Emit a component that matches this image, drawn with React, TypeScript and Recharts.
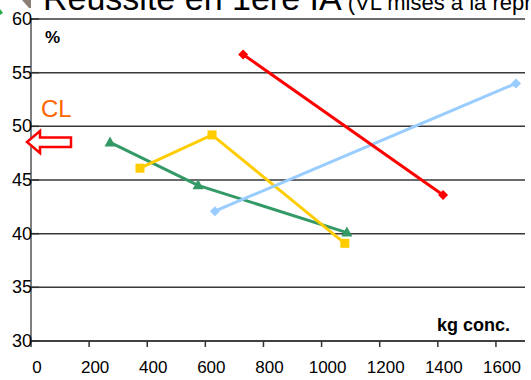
import { LineChart, Line, XAxis, YAxis, CartesianGrid } from 'recharts';

// kg de concentré / réussite (%)
const xTicks = [0, 200, 400, 600, 800, 1000, 1200, 1400, 1600];
const yTicks = [30, 35, 40, 45, 50, 55, 60];

const greenX = [272, 575, 1087];
const greenY = [48.5, 44.5, 40.1];
const yellowX = [375, 623, 1080];
const yellowY = [46.1, 49.2, 39.1];
const blueX = [633, 1669];
const blueY = [42.1, 54.0];
const redX = [730, 1418];
const redY = [56.7, 43.6];

const toRows = (xs: number[], ys: number[]) => xs.map((x, i) => ({ x, y: ys[i] }));

const FONT = '"Liberation Sans", Arial, sans-serif';

const diamond = (color: string) => (p: any) => {
  const { cx, cy, index } = p;
  const r = 5;
  return (
    <path
      key={`d-${color}-${index}`}
      d={`M${cx},${cy - r}L${cx + r},${cy}L${cx},${cy + r}L${cx - r},${cy}Z`}
      fill={color}
    />
  );
};

const square = (color: string) => (p: any) => {
  const { cx, cy, index } = p;
  return <rect key={`s-${index}`} x={cx - 4.5} y={cy - 4.5} width={9} height={9} fill={color} />;
};

const triangle = (color: string) => (p: any) => {
  const { cx, cy, index } = p;
  return (
    <path
      key={`t-${index}`}
      d={`M${cx},${cy - 6}L${cx + 5.5},${cy + 4}L${cx - 5.5},${cy + 4}Z`}
      fill={color}
    />
  );
};

const YTick = (props: any) => {
  const { y, payload } = props;
  return (
    <g>
      <line x1={31} x2={39} y1={y} y2={y} stroke="#333" strokeWidth={1.5} />
      <text x={32} y={y + 6} textAnchor="end" fontSize={18} fill="#000" fontFamily={FONT}>
        {payload.value}
      </text>
    </g>
  );
};

const XTick = (props: any) => {
  const { x, y, payload } = props;
  return (
    <text x={x + 6} y={y + 24} textAnchor="middle" fontSize={17} fill="#000" fontFamily={FONT}>
      {payload.value}
    </text>
  );
};

const App = () => {
  return (
    <div style={{ position: 'relative', width: 531, height: 380, overflow: 'hidden', background: '#fff' }}>
      <style>{'body{margin:0}'}</style>
      <LineChart width={531} height={380} margin={{ top: 19, right: 6, bottom: 0, left: 0 }}>
        <CartesianGrid vertical={false} stroke="#3a3a3a" strokeWidth={1.5} />
        <XAxis
          type="number"
          dataKey="x"
          domain={[0, 1700]}
          ticks={xTicks}
          height={39}
          tickSize={6}
          tickLine={{ stroke: '#333', strokeWidth: 1.5 }}
          axisLine={{ stroke: '#333', strokeWidth: 1.5 }}
          tick={<XTick />}
          allowDataOverflow
        />
        <YAxis
          type="number"
          domain={[30, 60]}
          ticks={yTicks}
          width={31}
          tickLine={false}
          axisLine={{ stroke: '#555', strokeWidth: 1.5 }}
          tick={<YTick />}
          allowDataOverflow
        />
        <Line data={toRows(greenX, greenY)} dataKey="y" stroke="#339966" strokeWidth={3} dot={triangle('#339966')} isAnimationActive={false} />
        <Line data={toRows(yellowX, yellowY)} dataKey="y" stroke="#FFCC00" strokeWidth={3} dot={square('#FFCC00')} isAnimationActive={false} />
        <Line data={toRows(blueX, blueY)} dataKey="y" stroke="#99CCFF" strokeWidth={3} dot={diamond('#99CCFF')} isAnimationActive={false} />
        <Line data={toRows(redX, redY)} dataKey="y" stroke="#FF0000" strokeWidth={3} dot={diamond('#FF0000')} isAnimationActive={false} />
      </LineChart>
      <svg
        width={531}
        height={380}
        style={{ position: 'absolute', left: 0, top: 0, pointerEvents: 'none' }}
        fontFamily={FONT}
      >
        <polygon points="22,0 31,0 31,8 29,8" fill="#8c7e74" />
        <polygon points="0,9 3,13 0,15" fill="#22aa44" />
        <text x={43} y={10} fontSize={34} fill="#000">
          Réussite en 1ère IA
          <tspan fontSize={22}> (VL mises à la repro)</tspan>
        </text>
        <text x={45} y={43} fontSize={17} fontWeight="bold" fill="#000">%</text>
        <text x={510} y={331} fontSize={18} fontWeight="bold" fill="#000" textAnchor="end">kg conc.</text>
        <text x={41} y={117} fontSize={24} fill="#FF6600">CL</text>
        <path
          d="M27,142 L40,131 L40,137.5 L71,137.5 L71,147 L40,147 L40,153 Z"
          fill="#fff"
          stroke="#FF0000"
          strokeWidth={2.5}
          strokeLinejoin="miter"
        />
      </svg>
    </div>
  );
};

export default App;
